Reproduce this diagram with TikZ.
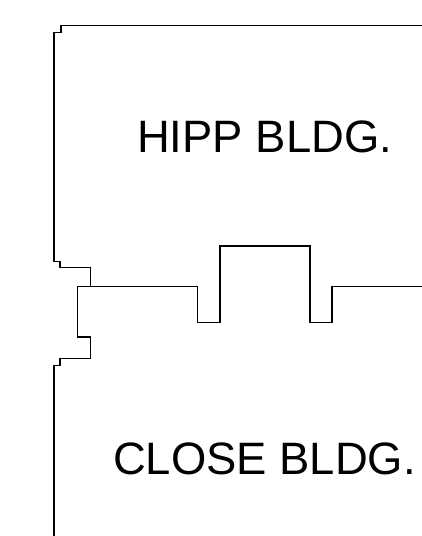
\documentclass[tikz,border=0pt]{standalone}
\usepackage{fontspec}
\setmainfont{Liberation Sans}
\tikzset{wall/.style={draw=black,line width=1.2pt,line join=miter},
bldg/.style={inner sep=0pt,font=\fontsize{45.4}{50}\selectfont,anchor=base west}}
\begin{document}
\begin{tikzpicture}[x=1pt,y=-1pt]
\useasboundingbox (0,0) rectangle (422,536);
\coordinate (a1) at (422,25.7);
\coordinate (a2) at (54,536);
\coordinate (a3) at (422,286.7);
\coordinate (a4) at (77.7,286.7);
\draw[wall] (a1) -- (61,25.7) -- (61,32.7) -- (54,32.7) -- (54,261.3) -- (60,261.3) -- (60,267.7) -- (90.7,267.7) -- (90.7,286.7);
\draw[wall] (a2) -- (54,365.3) -- (60,365.3) -- (60,358.3) -- (90.7,358.3) -- (90.7,337) -- (77.7,337) -- (a4) -- (197.7,286.7) -- (197.7,322.7) -- (220,322.7) -- (220,246) -- (310,246) -- (310,322.7) -- (332,322.7) -- (332,286.7) -- (a3);
\node[bldg] (hipp) at (137,152) {HIPP BLDG.};
\node[bldg] (close) at (113,474) {CLOSE BLDG.};
\end{tikzpicture}
\end{document}
